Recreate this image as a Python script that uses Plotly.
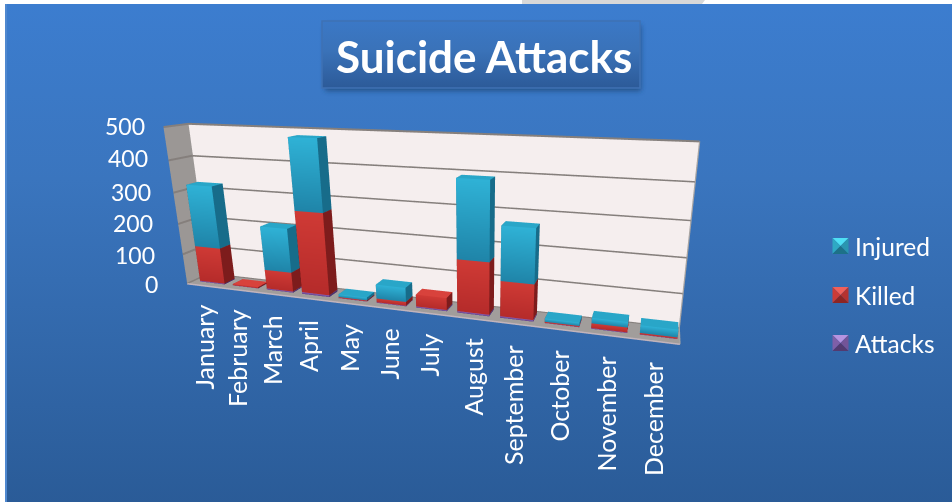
import base64
import plotly.graph_objects as go

months = ["January","February","March","April","May","June","July","August","September","October","November","December"]
attacks = [3, 1, 4, 6, 1, 2, 4, 5, 5, 1, 2, 1]
killed = [118, 4, 62, 258, 3, 12, 37, 156, 105, 3, 14, 4]
injured = [200, 0, 140, 217, 9, 44, 0, 229, 158, 10, 16, 22]
y_ticks = [500, 400, 300, 200, 100, 0]
series = [("Attacks", attacks, "#8a62b8", "#5f3f85", "#4c3270", "#a684cc"),
          ("Killed", killed, "#cf3a35", "#b52b2a", "#7d1c1c", "#d8423c"),
          ("Injured", injured, "#2fb2d6", "#1f84a8", "#176c8a", "#29a6c8")]

# text placement in page pixels
month_x = [203, 237, 272, 308, 349, 388, 428, 472, 513, 558, 605, 653]
month_top = [303, 307, 313, 318, 322, 327, 332, 337, 343, 349, 355, 360]
ytick_right = [147, 150, 153, 155, 157, 160]
ytick_y = [126, 158, 192, 223, 255, 284]

W, H = 952, 502
def px(x): return x / W
def py(y): return 1 - y / H
def svg_uri(body):
    s = f'<svg xmlns="http://www.w3.org/2000/svg" width="{W}" height="{H}" viewBox="0 0 {W} {H}" preserveAspectRatio="none">{body}</svg>'
    return "data:image/svg+xml;base64," + base64.b64encode(s.encode()).decode()

bg = ('<defs><linearGradient id="g" x1="0" y1="0" x2="0" y2="1"><stop offset="0" stop-color="#3c7dcf"/>'
      '<stop offset="0.35" stop-color="#3a75be"/><stop offset="1" stop-color="#2a5b97"/></linearGradient>'
      '<linearGradient id="t" x1="0" y1="0" x2="0" y2="1"><stop offset="0" stop-color="#3b78c6"/>'
      '<stop offset="0.45" stop-color="#3a72b8"/><stop offset="1" stop-color="#2c5a98"/></linearGradient>'
      '<filter id="b" x="-10%" y="-10%" width="120%" height="130%"><feGaussianBlur stdDeviation="2.5"/></filter></defs>'
      f'<rect width="{W}" height="{H}" fill="white"/>'
      '<polygon points="522,0 705,0 702,4 522,4" fill="#d8d8d8"/>'
      f'<rect x="5" y="4" width="{W}" height="{H}" fill="#4f88cf"/>'
      f'<rect x="7" y="4" width="{W}" height="{H}" fill="url(#g)"/>'
      '<rect x="325" y="25" width="316" height="66" fill="#1f4474" opacity="0.75" filter="url(#b)"/>'
      '<rect x="322" y="21" width="318" height="67" fill="url(#t)" stroke="#3f72b4" stroke-width="1.5"/>')

X0, X1 = 0.205, 0.955  # bar footprint inside a category slot
Y0, Y1 = 0.28, 0.76

traces = []
base = [0] * 12
for name, vals, top_c, bot_c, side_c, cap_c in series:
    xs, ys, zs, cols, I, J, K = [], [], [], [], [], [], []
    def quad(pts, colours):
        n = len(xs)
        for (a, b, c), col in zip(pts, colours):
            xs.append(a); ys.append(b); zs.append(c); cols.append(col)
        I.extend([n, n]); J.extend([n + 1, n + 2]); K.extend([n + 2, n + 3])
    for i, v in enumerate(vals):
        if v == 0:
            continue
        a, b = i + X0, i + X1
        lo, hi = base[i], base[i] + v
        quad([(a, Y0, lo), (b, Y0, lo), (b, Y0, hi), (a, Y0, hi)], [bot_c, bot_c, top_c, top_c])
        quad([(b, Y0, lo), (b, Y1, lo), (b, Y1, hi), (b, Y0, hi)], [side_c] * 4)
        quad([(a, Y0, lo), (a, Y1, lo), (a, Y1, hi), (a, Y0, hi)], [side_c] * 4)
        quad([(a, Y0, hi), (b, Y0, hi), (b, Y1, hi), (a, Y1, hi)], [cap_c] * 4)
        base[i] = hi
    traces.append(go.Mesh3d(x=xs, y=ys, z=zs, i=I, j=J, k=K, vertexcolor=cols, name=name,
                            flatshading=True, hoverinfo="name",
                            lighting=dict(ambient=1, diffuse=0, specular=0, roughness=1, fresnel=0)))

# gridlines on the back and side walls, one for each value tick
gx, gy, gz = [], [], []
for v in y_ticks:
    gx += [0, 0, 12, None]; gy += [0, 1, 1, None]; gz += [v, v, v, None]
traces.append(go.Scatter3d(x=gx, y=gy, z=gz, mode="lines", line=dict(color="#857f7c", width=4), hoverinfo="skip"))
# floor front edge and wall right edge
traces.append(go.Scatter3d(x=[0, 12], y=[0, 0], z=[0, 0], mode="lines", line=dict(color="#c2b4bb", width=3), hoverinfo="skip"))
traces.append(go.Scatter3d(x=[12, 12, 12], y=[0, 1, 1], z=[0, 0, 500], mode="lines", line=dict(color="#a9a5a3", width=2.5), hoverinfo="skip"))

fig = go.Figure(traces)
white = "white"
annotations = [dict(text="<b>Suicide Attacks</b>", x=px(484), y=py(56), xref="paper", yref="paper",
                    showarrow=False, yanchor="middle", font=dict(family="Lato", size=44, color=white))]
for m, x, t in zip(months, month_x, month_top):
    annotations.append(dict(text=m, x=px(x), y=py(t), xref="paper", yref="paper", showarrow=False, textangle=-90,
                            xanchor="center", yanchor="top", font=dict(family="Lato", size=25, color=white)))
for v, x, y in zip(y_ticks, ytick_right, ytick_y):
    annotations.append(dict(text=str(v), x=px(x), y=py(y), xref="paper", yref="paper", showarrow=False,
                            xanchor="right", yanchor="middle", font=dict(family="Lato", size=23, color=white)))
shapes = []
keys = [("Injured", 246, "#4fe0f5", "#2ea9c4", "#2a96b0", "#1d7188"),
        ("Killed", 295, "#f0605a", "#cc3b36", "#b53230", "#8d2523"),
        ("Attacks", 343, "#b694e0", "#7f5fa8", "#735498", "#533a70")]
for n, yy, c_t, c_l, c_r, c_b in keys:
    annotations.append(dict(text=n, x=px(853), y=py(yy), xref="paper", yref="paper", xanchor="left",
                            yanchor="middle", showarrow=False, font=dict(family="Lato", size=24.5, color=white)))
    l, r, t, b, mx, my = px(832.5), px(848.5), py(yy - 8), py(yy + 8), px(840.5), py(yy)
    for (p1, p2), c in [(((l, t), (r, t)), c_t), (((l, t), (l, b)), c_l), (((r, t), (r, b)), c_r), (((l, b), (r, b)), c_b)]:
        shapes.append(dict(type="path", xref="paper", yref="paper", fillcolor=c, line=dict(width=0),
                           path=f"M{p1[0]},{p1[1]} L{p2[0]},{p2[1]} L{mx},{my} Z"))

fig.update_layout(
    width=W, height=H, margin=dict(l=0, r=0, t=0, b=0), paper_bgcolor="rgba(0,0,0,0)",
    showlegend=False, annotations=annotations, shapes=shapes,
    images=[dict(source=svg_uri(bg), xref="paper", yref="paper", x=0, y=1, sizex=1, sizey=1,
                 sizing="stretch", layer="below")],
    scene=dict(
        domain=dict(x=[0, 1], y=[0, 1]),
        bgcolor="rgba(0,0,0,0)",
        aspectmode="manual", aspectratio=dict(x=3.0659, y=0.2093, z=1.0082),
        camera=dict(eye=dict(x=1.3497, y=-3.1135, z=0.8819), center=dict(x=-0.1876, y=1.9643, z=-0.7773),
                    up=dict(x=0, y=0, z=1)),
        xaxis=dict(range=[0, 12], showticklabels=False, title="", showgrid=False, zeroline=False,
                   showline=False, ticks="", showbackground=True, backgroundcolor="#9b9795", showspikes=False),
        yaxis=dict(range=[0, 1], showticklabels=False, title="", showgrid=False, zeroline=False, ticks="",
                   showline=False, showbackground=True, backgroundcolor="#f5eeee", showspikes=False),
        zaxis=dict(range=[0, 500], tickvals=y_ticks, showticklabels=False, title="", showgrid=False,
                   zeroline=False, ticks="", showline=False,
                   showbackground=True, backgroundcolor="#a19d9b", showspikes=False),
    ),
)
fig.write_html("out.html", config=dict(displayModeBar=False),
               post_script="document.body.style.margin='0';document.body.style.overflow='hidden';")
